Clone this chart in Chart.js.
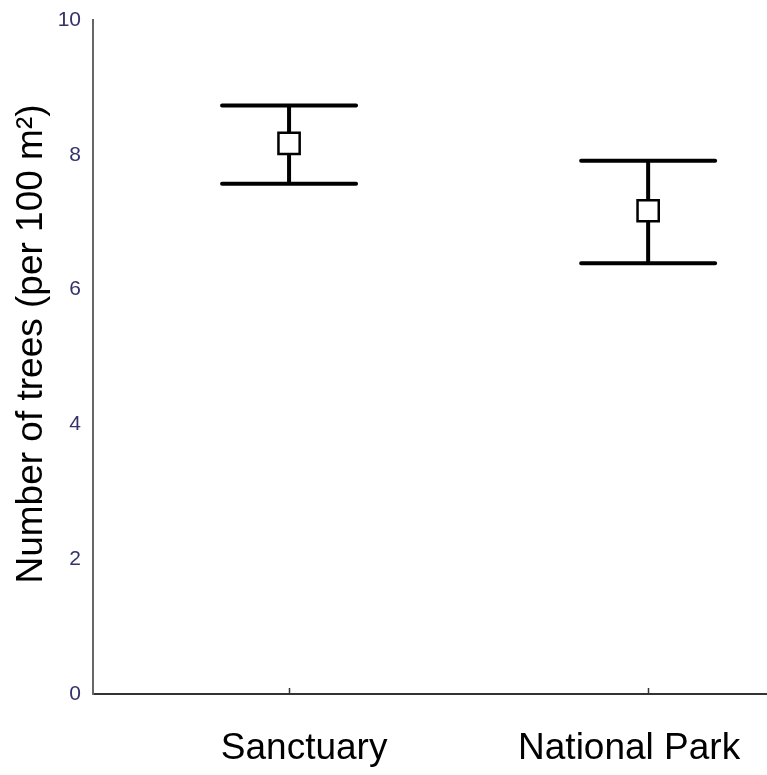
<!DOCTYPE html>
<html>
<head>
<meta charset="utf-8">
<script src="https://cdn.jsdelivr.net/npm/chart.js@4"></script>
<style>
  html, body { margin: 0; padding: 0; background: #fff; }
  #wrap { width: 767px; height: 775px; }
</style>
</head>
<body>
<div id="wrap"><canvas id="treeChart" width="767" height="775"></canvas></div>
<script>
// 两个地点的树木密度（每 100 m²），均值与误差范围
const sites = ['Sanctuary', 'National Park'];
const means = [8.17, 7.17];
const lowers = [7.57, 6.39];
const uppers = [8.73, 7.91];
const yTicks = [0, 2, 4, 6, 8, 10];
const yTitle = 'Number of trees (per 100 m²)';

const FONT = 'Liberation Sans, Arial, sans-serif';
// 原图的类别文字没有正对刻度，稍微挪一下（x 轴单位）
const LABEL_SHIFT = [0.042, -0.053];

// 误差线和 x 轴刻度线，用图表自己的比例尺换算位置
const errorBarPlugin = {
  id: 'errorBars',
  beforeDatasetsDraw(chart) {
    const { ctx, scales: { x, y } } = chart;
    ctx.save();
    ctx.strokeStyle = '#000';
    ctx.lineWidth = 4;
    ctx.lineCap = 'round';
    sites.forEach((name, i) => {
      const px = x.getPixelForValue(i);
      const top = y.getPixelForValue(uppers[i]);
      const bot = y.getPixelForValue(lowers[i]);
      ctx.beginPath();
      ctx.moveTo(px, top);
      ctx.lineTo(px, bot);
      ctx.moveTo(px - 67, top);
      ctx.lineTo(px + 67, top);
      ctx.moveTo(px - 67, bot);
      ctx.lineTo(px + 67, bot);
      ctx.stroke();
    });
    // 轴上的小刻度，朝内
    ctx.lineWidth = 1.5;
    ctx.lineCap = 'butt';
    ctx.strokeStyle = '#333';
    const base = chart.chartArea.bottom;
    sites.forEach((name, i) => {
      const px = Math.round(x.getPixelForValue(i)) + 0.5;
      ctx.beginPath();
      ctx.moveTo(px, base);
      ctx.lineTo(px, base - 6);
      ctx.stroke();
    });
    ctx.restore();
  },
  // y 轴标题略偏上，自己画
  afterDraw(chart) {
    const { ctx, chartArea } = chart;
    ctx.save();
    ctx.translate(32, (chartArea.top + chartArea.bottom) / 2 - 13);
    ctx.rotate(-Math.PI / 2);
    ctx.font = '37px ' + FONT;
    ctx.fillStyle = '#000';
    ctx.textAlign = 'center';
    ctx.textBaseline = 'middle';
    ctx.fillText(yTitle, 0, 0);
    ctx.restore();
  }
};

window.onload = function() {
  const ctx = document.getElementById('treeChart').getContext('2d');
  new Chart(ctx, {
    type: 'scatter',
    data: {
      datasets: [{
        label: 'Mean',
        data: means.map((v, i) => ({ x: i, y: v })),
        pointStyle: 'rect',
        pointRadius: 15,
        pointHoverRadius: 15,
        pointBackgroundColor: '#fff',
        pointBorderColor: '#000',
        pointBorderWidth: 2.5
      }]
    },
    options: {
      responsive: false,
      animation: false,
      layout: { autoPadding: false, padding: { top: 20, right: 0, bottom: 0, left: 0 } },
      plugins: {
        legend: { display: false },
        tooltip: { enabled: false }
      },
      scales: {
        x: {
          type: 'linear',
          min: -0.546,
          max: 1.331,
          afterBuildTicks(scale) {
            scale.ticks = sites.map((s, i) => ({ value: i + LABEL_SHIFT[i] }));
          },
          afterFit(scale) {
            scale.height = 81;
            scale.paddingLeft = 0;
            scale.paddingRight = 0;
          },
          grid: { display: false, drawTicks: false },
          border: { display: true, color: '#333', width: 2 },
          ticks: {
            padding: 33,
            color: '#000',
            font: { family: FONT, size: 37 },
            callback: v => sites[Math.round(v)]
          }
        },
        y: {
          min: 0,
          max: 10,
          afterBuildTicks(scale) {
            scale.ticks = yTicks.map(v => ({ value: v }));
          },
          afterFit(scale) {
            scale.width = 93;
            scale.paddingTop = 0;
            scale.paddingBottom = 0;
          },
          grid: { display: false, drawTicks: false },
          border: { display: true, color: '#666', width: 2 },
          ticks: {
            padding: 12,
            color: '#33336b',
            font: { family: FONT, size: 21 }
          }
        }
      }
    },
    plugins: [errorBarPlugin]
  });
};
</script>
</body>
</html>
